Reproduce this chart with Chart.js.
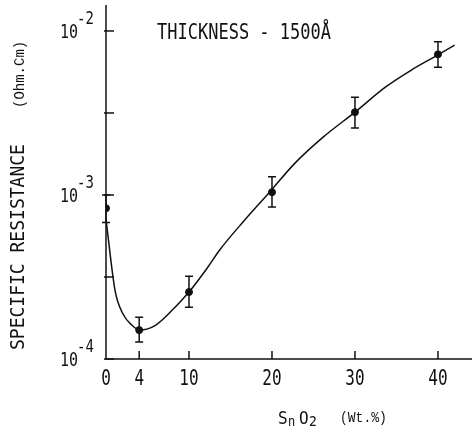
<!DOCTYPE html>
<html>
<head>
<meta charset="utf-8">
<script src="https://cdn.jsdelivr.net/npm/chart.js@4.4.1/dist/chart.umd.min.js"></script>
<style>
  html, body { margin: 0; padding: 0; background: #fff; }
  #wrap { width: 472px; height: 432px; }
</style>
</head>
<body>
<div id="wrap"><canvas id="myChart" width="472" height="432"></canvas></div>
<script>
// measured points (SnO2 wt.%, resistance in Ohm.cm)
var sno2 = [0, 4, 10, 20, 30, 40];
var resistance = [8.3e-4, 1.5e-4, 2.56e-4, 1.04e-3, 3.2e-3, 7.2e-3];
var errHigh = [1.0e-3, 1.8e-4, 3.2e-4, 1.29e-3, 3.95e-3, 8.6e-3];
var errLow = [6.8e-4, 1.27e-4, 2.07e-4, 8.45e-4, 2.56e-3, 6.0e-3];

// hand drawn fit curve
var fitX = [0, 1.1, 2, 3.1, 4.1, 6, 8, 10, 12.2, 13.7, 16.5, 19.7, 22.8, 26.2, 30, 33.7, 36.8, 40, 42];
var fitY = [7.1e-4, 2.6e-4, 1.9e-4, 1.61e-4, 1.5e-4, 1.61e-4, 1.99e-4, 2.56e-4, 3.59e-4, 4.62e-4,
            6.84e-4, 1.04e-3, 1.57e-3, 2.26e-3, 3.2e-3, 4.56e-3, 5.78e-3, 7.15e-3, 8.2e-3];

var xTicks = [0, 4, 10, 20, 30, 40];
var yTicks = [1e-4, 1e-3, 1e-2];
var yTickExp = ["-4", "-3", "-2"];
var yMinor = [Math.pow(10, -3.5), Math.pow(10, -2.5)];

var INK = "#111";

function txt(ctx, s, x, y, font, align, sy) {
  ctx.save();
  ctx.translate(x, y);
  ctx.scale(1, sy || 1);
  ctx.font = font;
  ctx.textAlign = align || "left";
  ctx.textBaseline = "middle";
  ctx.fillStyle = INK;
  ctx.fillText(s, 0, 0);
  ctx.restore();
}

var MONO = '"DejaVu Sans Mono", "Liberation Mono", monospace';
var TYPE = '"Liberation Mono", "DejaVu Sans Mono", monospace';

var axesPlugin = {
  id: "axesPlugin",
  afterDatasetsDraw: function (chart) {
    var ctx = chart.ctx;
    var xs = chart.scales.x;
    var ys = chart.scales.y;
    var a = chart.chartArea;
    ctx.save();
    ctx.strokeStyle = INK;
    ctx.lineWidth = 1.5;

    // axes
    ctx.beginPath();
    ctx.moveTo(a.left, a.top);
    ctx.lineTo(a.left, a.bottom);
    ctx.lineTo(a.right, a.bottom);
    ctx.stroke();

    // y ticks
    yTicks.concat(yMinor).forEach(function (v) {
      var y = ys.getPixelForValue(v);
      ctx.beginPath();
      ctx.moveTo(a.left - 2, y);
      ctx.lineTo(a.left + 8, y);
      ctx.stroke();
    });
    // x ticks
    xTicks.forEach(function (v) {
      if (v === 0) return;
      var x = xs.getPixelForValue(v);
      ctx.beginPath();
      ctx.moveTo(x, a.bottom);
      ctx.lineTo(x, a.bottom - 8);
      ctx.stroke();
    });

    // error bars
    for (var i = 0; i < sno2.length; i++) {
      var x = xs.getPixelForValue(sno2[i]);
      var y1 = ys.getPixelForValue(errHigh[i]);
      var y2 = ys.getPixelForValue(errLow[i]);
      ctx.beginPath();
      ctx.moveTo(x, y1); ctx.lineTo(x, y2);
      ctx.moveTo(x - 4, y1); ctx.lineTo(x + 4, y1);
      ctx.moveTo(x - 4, y2); ctx.lineTo(x + 4, y2);
      ctx.stroke();
    }

    // y tick labels 10^n
    yTicks.forEach(function (v, k) {
      var y = ys.getPixelForValue(v);
      txt(ctx, "10", 78, y + 2, "15px " + MONO, "right", 1.3);
      txt(ctx, yTickExp[k], 77, y - 12, "14px " + MONO, "left", 1.3);
    });
    // x tick labels
    xTicks.forEach(function (v) {
      var x = xs.getPixelForValue(v);
      txt(ctx, String(v), x, 380, "16px " + MONO, "center", 1.3);
    });

    // title inside plot
    txt(ctx, "THICKNESS - 1500\u00C5", 157, 34, "17px " + MONO, "left", 1.2);

    // x axis title
    txt(ctx, "S", 278, 419, "16px " + MONO, "left", 1.15);
    txt(ctx, "n", 288, 423, "12px " + MONO, "left", 1.1);
    txt(ctx, "O", 299, 419, "16px " + MONO, "left", 1.15);
    txt(ctx, "2", 309, 422, "13px " + MONO, "left", 1.1);
    txt(ctx, "(Wt.%)", 340, 418, "13px " + TYPE, "left", 1.1);

    // y axis title
    ctx.save();
    ctx.translate(19, 350);
    ctx.rotate(-Math.PI / 2);
    txt(ctx, "SPECIFIC RESISTANCE", 0, 0, "18px " + MONO, "left", 1.05);
    txt(ctx, "(Ohm.Cm)", 242, 1, "14px " + TYPE, "left", 1.0);
    ctx.restore();

    ctx.restore();
  }
};

function createChart() {
  var ctx = document.getElementById("myChart").getContext("2d");
  var fitData = fitX.map(function (x, i) { return { x: x, y: fitY[i] }; });
  var pointData = sno2.map(function (x, i) { return { x: x, y: resistance[i] }; });

  new Chart(ctx, {
    type: "scatter",
    data: {
      datasets: [
        {
          data: fitData,
          showLine: true,
          borderColor: INK,
          borderWidth: 1.5,
          pointRadius: 0,
          cubicInterpolationMode: "monotone",
        },
        {
          data: pointData,
          showLine: false,
          pointRadius: 3.5,
          backgroundColor: INK,
          borderColor: INK,
        },
      ],
    },
    options: {
      responsive: false,
      animation: false,
      layout: { autoPadding: false, padding: { left: 106, right: 0, top: 5, bottom: 73 } },
      plugins: { legend: { display: false }, tooltip: { enabled: false } },
      scales: {
        x: { type: "linear", min: 0, max: 44.1, display: false },
        y: { type: "logarithmic", min: 1e-4, max: 0.0144, display: false },
      },
    },
    plugins: [axesPlugin],
  });
}

createChart();
</script>
</body>
</html>
